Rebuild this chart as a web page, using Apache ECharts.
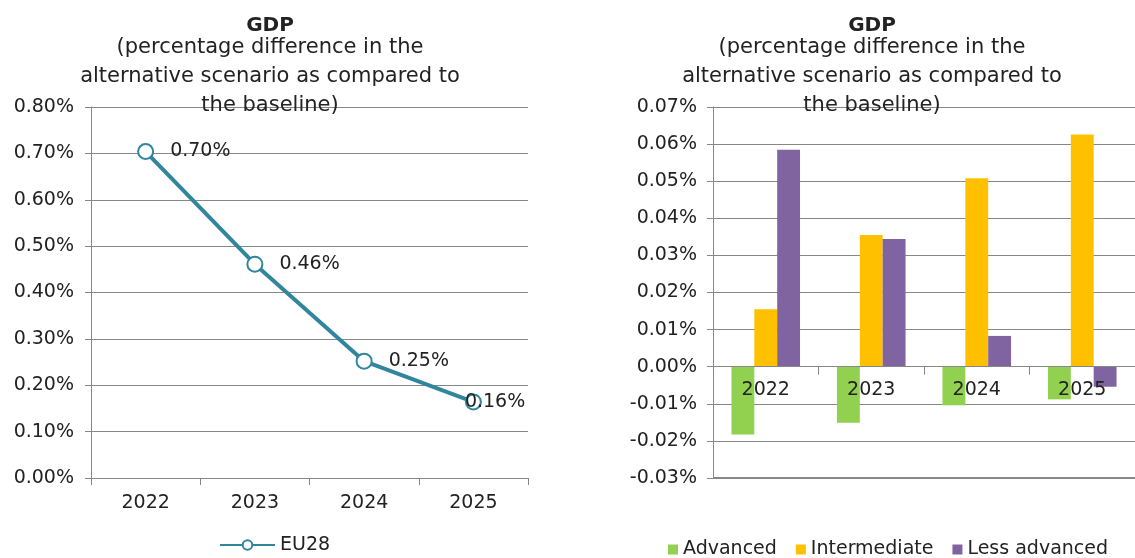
<!DOCTYPE html>
<html><head><meta charset="utf-8">
<script src="https://cdn.jsdelivr.net/npm/echarts@6/dist/echarts.min.js"></script>
<style>html,body{margin:0;padding:0;background:#fff}#c{width:1135px;height:558px}</style>
</head><body><div id="c"></div>
<script>
// ---- data ----
const years = ['2022', '2023', '2024', '2025'];
const eu28 = [0.704, 0.461, 0.252, 0.164];              // % difference, EU28
const advanced = [-0.0183, -0.0151, -0.0104, -0.0088];   // % difference
const intermediate = [0.0155, 0.0355, 0.0508, 0.0626];
const lessAdvanced = [0.0585, 0.0344, 0.0083, -0.0054];
const titleMain = 'GDP';
const titleSub = '(percentage difference in the\nalternative scenario as compared to\nthe baseline)';
const leftAxisMin = 0, leftAxisMax = 0.8, leftAxisStep = 0.1;
const rightAxisMin = -0.03, rightAxisMax = 0.07, rightAxisStep = 0.01;

// ---- style ----
const FONT = 'DejaVu Sans';
const TXT = '#222';
const GRID = '#878787';
const TEAL = '#31859C';
const fmtPct = v => (Math.abs(v) < 1e-9 ? 0 : v).toFixed(2) + '%';

const W = 1135, H = 558;
const rightGrid = {left: 713, right: -5, top: 107, bottom: 80};
// place the category axis of the bar chart on the zero line
const plotH = H - rightGrid.top - rightGrid.bottom;
const zeroY = rightGrid.top + plotH * (rightAxisMax / (rightAxisMax - rightAxisMin));
const zeroOffset = -((H - rightGrid.bottom) - zeroY);

const chart = echarts.init(document.getElementById('c'), null, {renderer: 'canvas'});

function makeTitle(cx) {
  return {
    text: titleMain, subtext: titleSub, left: cx, top: 16, padding: 0,
    textAlign: 'center', itemGap: -3,
    textStyle: {fontFamily: FONT, fontSize: 20, fontWeight: 'bold', color: TXT, lineHeight: 20},
    subtextStyle: {fontFamily: FONT, fontSize: 21, color: TXT, lineHeight: 29}
  };
}

const axisLabelStyle = {fontFamily: FONT, fontSize: 19, color: TXT};
const splitStyle = {show: true, showMinLine: true, showMaxLine: true, lineStyle: {color: GRID, width: 1}};

const option = {
  animation: false,
  backgroundColor: '#fff',
  title: [makeTitle(270), makeTitle(872)],
  legend: [
    {
      data: ['EU28'], left: 219, top: 535.5, padding: 0,
      itemWidth: 55, itemHeight: 12,
      textStyle: {fontFamily: FONT, fontSize: 19, color: TXT}
    },
    {
      data: ['Advanced', 'Intermediate', 'Less advanced'], left: 668, top: 540, padding: 0,
      itemWidth: 10, itemHeight: 10, itemGap: 19, icon: 'rect',
      textStyle: {fontFamily: FONT, fontSize: 19, color: TXT}
    }
  ],
  grid: [
    {left: 91, right: 607, top: 107, bottom: 80},
    rightGrid
  ],
  xAxis: [
    {
      gridIndex: 0, type: 'category', data: years, boundaryGap: true,
      axisLine: {lineStyle: {color: GRID, width: 1}},
      axisTick: {show: true, length: 7, lineStyle: {color: GRID}},
      axisLabel: Object.assign({margin: 16}, axisLabelStyle)
    },
    {
      gridIndex: 1, type: 'category', data: years, boundaryGap: true, z: 5,
      position: 'bottom', offset: zeroOffset,
      axisLine: {onZero: false, lineStyle: {color: GRID, width: 1}},
      axisTick: {show: true, length: 8, lineStyle: {color: GRID}},
      axisLabel: Object.assign({margin: 14}, axisLabelStyle)
    }
  ],
  yAxis: [
    {
      gridIndex: 0, type: 'value', min: leftAxisMin, max: leftAxisMax, interval: leftAxisStep,
      axisLine: {show: true, lineStyle: {color: GRID, width: 1}},
      axisTick: {show: true, length: 6, lineStyle: {color: GRID}},
      splitLine: splitStyle,
      axisLabel: Object.assign({margin: 17, formatter: fmtPct}, axisLabelStyle)
    },
    {
      gridIndex: 1, type: 'value', min: rightAxisMin, max: rightAxisMax, interval: rightAxisStep,
      axisLine: {show: true, lineStyle: {color: GRID, width: 1}},
      axisTick: {show: true, length: 6, lineStyle: {color: GRID}},
      splitLine: splitStyle,
      axisLabel: Object.assign({margin: 16, formatter: fmtPct}, axisLabelStyle)
    }
  ],
  series: [
    {
      name: 'EU28', type: 'line', xAxisIndex: 0, yAxisIndex: 0,
      data: eu28.map((v, i) => i === eu28.length - 1
        ? {value: v, label: {offset: [-33, 0]}} : v),
      symbol: 'circle', symbolSize: 15,
      lineStyle: {color: TEAL, width: 4},
      itemStyle: {color: '#fff', borderColor: TEAL, borderWidth: 2},
      label: {
        show: true, position: 'right', distance: 16,
        fontFamily: FONT, fontSize: 19, color: TXT,
        formatter: p => fmtPct(p.value)
      },
      z: 3
    },
    {
      name: 'Advanced', type: 'bar', xAxisIndex: 1, yAxisIndex: 1,
      data: advanced, itemStyle: {color: '#92D050'},
      barGap: '0%', barCategoryGap: '35%',
      markLine: {
        silent: true, symbol: ['none', 'none'], animation: false,
        label: {show: false},
        lineStyle: {color: GRID, width: 2, type: 'solid', opacity: 1},
        emphasis: {disabled: true},
        data: [{yAxis: rightAxisMin}]
      }
    },
    {
      name: 'Intermediate', type: 'bar', xAxisIndex: 1, yAxisIndex: 1,
      data: intermediate, itemStyle: {color: '#FFC000'},
      barGap: '0%', barCategoryGap: '35%'
    },
    {
      name: 'Less advanced', type: 'bar', xAxisIndex: 1, yAxisIndex: 1,
      data: lessAdvanced, itemStyle: {color: '#8064A2'},
      barGap: '0%', barCategoryGap: '35%'
    }
  ]
};
chart.setOption(option);
</script>
</body></html>
